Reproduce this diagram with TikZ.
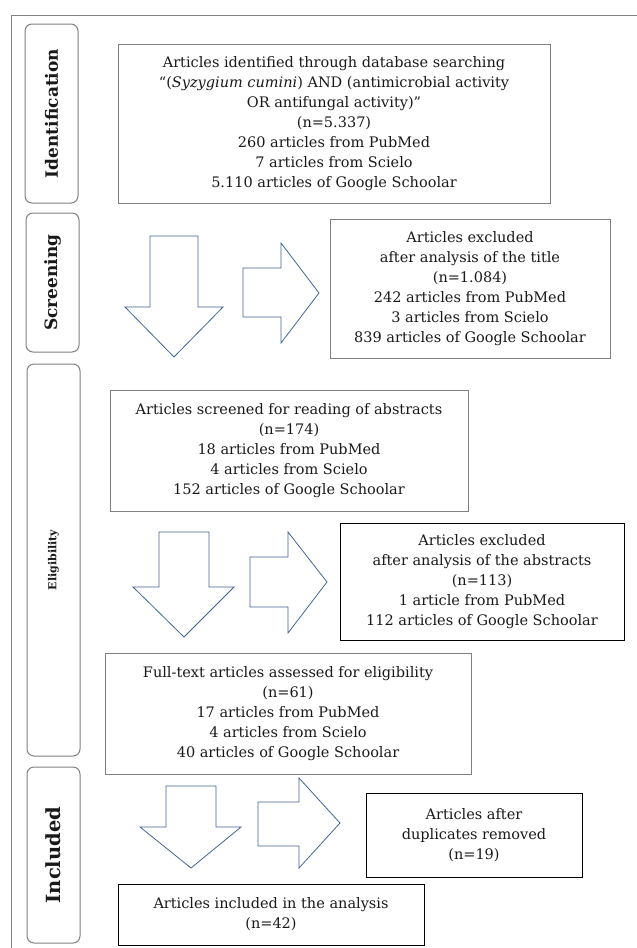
\documentclass[tikz,border=0pt]{standalone}
\usepackage{fontspec}
\setmainfont{DejaVu Serif}
\definecolor{boxgray}{RGB}{128,128,128}
\definecolor{arrowblue}{RGB}{65,100,150}
\definecolor{textc}{RGB}{25,25,25}
\begin{document}
\begin{tikzpicture}[x=1pt,y=-1pt,
  txt/.style={font=\fontsize{14.5}{20}\selectfont, align=center, text=textc, inner sep=0pt},
  graybox/.style={txt, draw=boxgray, line width=1pt},
  blackbox/.style={txt, draw=black, line width=1pt},
  stage/.style={draw=boxgray, rounded corners=7pt, line width=1pt, rotate=90, minimum height=53pt, text=textc},
  stagefont/.style={font=\bfseries\fontsize{17}{20}\selectfont},
  blockarrow/.style={draw=arrowblue, line width=0.8pt, line join=miter}]
\useasboundingbox (0,0) rectangle (637,948);
% outer frame
\draw[boxgray, line width=1pt] (11,948) -- (11,15) -- (637,15);
% stage labels
\node[stage, stagefont, minimum width=179pt] (sI) at (51.5,113.5) {Identification};
\node[stage, stagefont, minimum width=139pt] (sS) at (52.5,282.5) {Screening};
\node[stage, font=\bfseries\fontsize{11}{13}\selectfont, minimum width=392pt] (sE) at (53.5,560) {Eligibility};
\node[stage, font=\bfseries\fontsize{19.5}{22}\selectfont, minimum width=176pt] (sN) at (53.5,855) {Included};
% boxes
\node[graybox, minimum width=432pt, minimum height=159pt] (ident) at (334,123.5) {Articles identified through database searching\\
“(\textit{Syzygium cumini}) AND (antimicrobial activity\\
OR antifungal activity)”\\
(n=5.337)\\
260 articles from PubMed\\
7 articles from Scielo\\
5.110 articles of Google Schoolar};
\node[graybox, minimum width=280pt, minimum height=139pt] (excl1) at (470,288.5) {Articles excluded\\
after analysis of the title\\
(n=1.084)\\
242 articles from PubMed\\
3 articles from Scielo\\
839 articles of Google Schoolar};
\node[graybox, minimum width=358pt, minimum height=121pt] (abs) at (289,450.5) {Articles screened for reading of abstracts\\
(n=174)\\
18 articles from PubMed\\
4 articles from Scielo\\
152 articles of Google Schoolar};
\node[blackbox, minimum width=284pt, minimum height=117pt] (excl2) at (482,581.5) {Articles excluded\\
after analysis of the abstracts\\
(n=113)\\
1 article from PubMed\\
112 articles of Google Schoolar};
\node[graybox, minimum width=366pt, minimum height=121pt] (full) at (288,713.5) {Full-text articles assessed for eligibility\\
(n=61)\\
17 articles from PubMed\\
4 articles from Scielo\\
40 articles of Google Schoolar};
\node[blackbox, minimum width=216pt, minimum height=84pt] (dup) at (474,835) {Articles after\\
duplicates removed\\
(n=19)};
\node[blackbox, minimum width=306pt, minimum height=61pt] (incl) at (271,914.5) {Articles included in the analysis\\
(n=42)};
% block arrows
\draw[blockarrow] (150,236) -- (198,236) -- (198,307) -- (223,307) -- (174,357) -- (125,307) -- (150,307) -- cycle;
\draw[blockarrow] (243,268) -- (281,268) -- (281,243) -- (319,293) -- (281,343) -- (281,317) -- (243,317) -- cycle;
\draw[blockarrow] (159,532) -- (209,532) -- (209,587) -- (234,587) -- (184,637) -- (133,587) -- (159,587) -- cycle;
\draw[blockarrow] (250,557) -- (288,557) -- (288,532) -- (327,582) -- (288,633) -- (288,607) -- (250,607) -- cycle;
\draw[blockarrow] (166,786) -- (216,786) -- (216,827) -- (241,827) -- (191,868) -- (140,827) -- (166,827) -- cycle;
\draw[blockarrow] (258,802) -- (299,802) -- (299,778) -- (340,823) -- (299,868) -- (299,846) -- (258,846) -- cycle;
\end{tikzpicture}
\end{document}
